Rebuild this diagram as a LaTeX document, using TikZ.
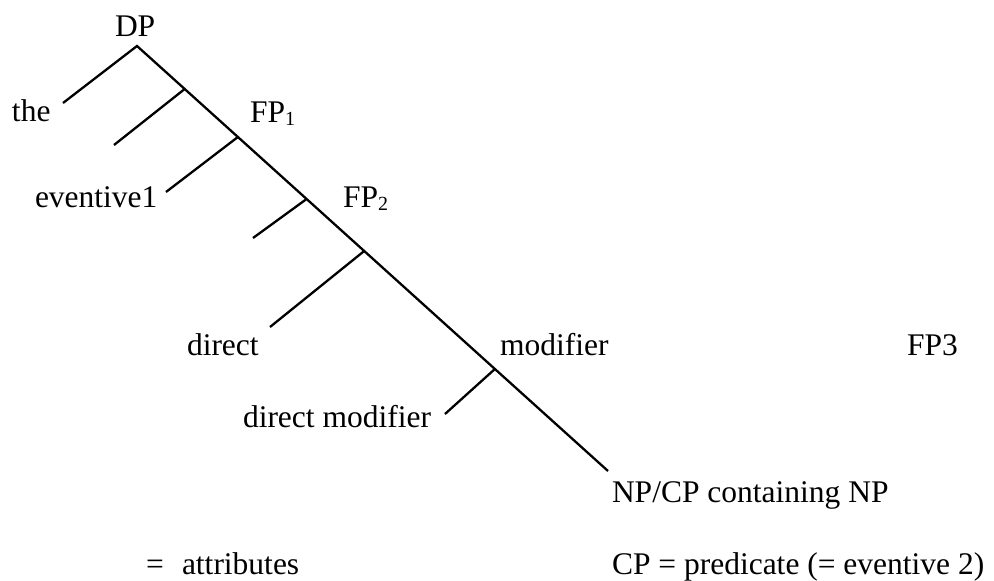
\documentclass[tikz,border=0pt]{standalone}
\usepackage{fontspec}
\setmainfont{Liberation Serif}
\newcommand{\mysub}[1]{\raisebox{-3pt}{\fontsize{20}{22}\selectfont #1}}
\begin{document}
\begin{tikzpicture}[x=1pt,y=-1pt,
  lbl/.style={anchor=base west, inner sep=0pt, outer sep=0pt, font=\fontsize{31.5}{36}\selectfont},
  branch/.style={line width=2.3pt, black}]
\useasboundingbox (0,0) rectangle (994,581);
% spine points
\coordinate (apex) at (137,46);
\coordinate (b1) at (184.7,89);
\coordinate (b2) at (237.9,137);
\coordinate (b3) at (306.6,199);
\coordinate (b4) at (364.2,251);
\coordinate (b5) at (494.9,369);
\coordinate (spineend) at (608,471);
% left ends
\coordinate (l0) at (63,103);
\coordinate (l1) at (114,145);
\coordinate (l2) at (166,192);
\coordinate (l3) at (253,238);
\coordinate (l4) at (270,327);
\coordinate (l5) at (445,414);
% labels
\node[lbl] (dp) at (115,36) {DP};
\node[lbl] (the) at (12,121) {the};
\node[lbl] (fp1) at (250,122) {FP\mysub{1}};
\node[lbl] (ev1) at (35,207) {eventive1};
\node[lbl] (fp2) at (343,207) {FP\mysub{2}};
\node[lbl] (direct) at (187,355) {direct};
\node[lbl] (modifier) at (500,355) {modifier};
\node[lbl] (fp3) at (907,355) {FP3};
\node[lbl] (dirmod) at (243,427) {direct modifier};
\node[lbl] (npcp) at (612,502) {NP/CP containing NP};
\node[lbl] (eq) at (146,574) {=};
\node[lbl] (attr) at (182,574) {attributes};
\node[lbl] (cppred) at (612,574) {CP = predicate (= eventive 2)};
% tree lines
\draw[branch] (l0) -- (apex) -- (b1) -- (b2) -- (b3) -- (b4) -- (b5) -- (spineend);
\draw[branch] (b1) -- (l1);
\draw[branch] (b2) -- (l2);
\draw[branch] (b3) -- (l3);
\draw[branch] (b4) -- (l4);
\draw[branch] (b5) -- (l5);
\end{tikzpicture}
\end{document}
